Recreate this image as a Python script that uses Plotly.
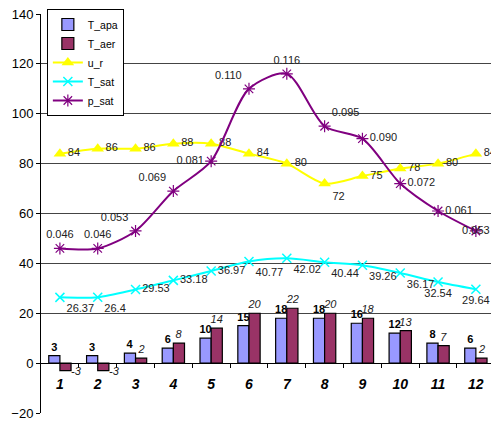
import plotly.graph_objects as go

# Monthly climate data
months = [1, 2, 3, 4, 5, 6, 7, 8, 9, 10, 11, 12]
month_labels = [str(m) for m in months]
t_apa = [3, 3, 4, 6, 10, 15, 18, 18, 16, 12, 8, 6]
t_aer = [-3, -3, 2, 8, 14, 20, 22, 20, 18, 13, 7, 2]
u_r = [84, 86, 86, 88, 88, 84, 80, 72, 75, 78, 80, 84]
t_sat = [26.37, 26.4, 29.53, 33.18, 36.97, 40.77, 42.02, 40.44, 39.26, 36.17, 32.54, 29.64]
p_sat = [0.046, 0.046, 0.053, 0.069, 0.081, 0.110, 0.116, 0.095, 0.090, 0.072, 0.061, 0.053]

# p_sat is drawn on the shared axis scaled by 1000
p_sat_scaled = [v * 1000 for v in p_sat]

FONT = "Liberation Sans, Arial, sans-serif"
LABEL_FONT = dict(family=FONT, size=11, color="#222222")

fig = go.Figure()

fig.add_trace(go.Bar(
    x=months, y=t_apa, name="T_apa",
    marker=dict(color="#9999FF", line=dict(color="#000000", width=1.2)),
    text=[str(v) for v in t_apa], textposition="outside",
    textfont=dict(family=FONT, size=11, color="#000000", weight="bold"),
    constraintext="none", cliponaxis=False,
))
# positive values are labelled above the bar, negative ones beside it (annotations below)
fig.add_trace(go.Bar(
    x=months, y=t_aer, name="T_aer",
    marker=dict(color="#993366", line=dict(color="#000000", width=1.2)),
    text=[str(v) if v >= 0 else "" for v in t_aer], textposition="outside",
    textfont=dict(family=FONT, size=11, color="#222222", style="italic"),
    constraintext="none", cliponaxis=False,
))
for m, v in zip(months, t_aer):
    if v < 0:
        fig.add_annotation(
            x=m, y=v, text=str(v), showarrow=False,
            xshift=17, yshift=0,
            font=dict(family=FONT, size=11, color="#222222", style="italic"),
        )

fig.add_trace(go.Scatter(
    x=months, y=u_r, name="u_r", mode="lines+markers+text",
    line=dict(color="#FFFF00", width=2, shape="spline", smoothing=0.8),
    marker=dict(symbol="triangle-up", size=11, color="#FFFF00"),
    text=[str(v) for v in u_r],
    textposition=["middle right"] * 7 + ["bottom right"] + ["middle right"] * 4,
    textfont=LABEL_FONT, cliponaxis=False,
))
fig.add_trace(go.Scatter(
    x=months, y=t_sat, name="T_sat", mode="lines+markers+text",
    line=dict(color="#00FFFF", width=2, shape="spline", smoothing=0.8),
    marker=dict(symbol="x-thin-open", size=9, color="#00FFFF",
                line=dict(color="#00FFFF", width=1.5)),
    text=[f"{v:g}" for v in t_sat],
    textposition=["bottom right"] * 2 + ["middle right"] * 3
                 + ["bottom right"] * 5 + ["bottom center"] * 2,
    textfont=LABEL_FONT, cliponaxis=False,
))
fig.add_trace(go.Scatter(
    x=months, y=p_sat_scaled, name="p_sat", mode="lines+markers+text",
    line=dict(color="#800080", width=2, shape="spline", smoothing=0.8),
    marker=dict(symbol="asterisk-open", size=10, color="#800080",
                line=dict(color="#800080", width=1.2)),
    text=[f"{v:.3f}" for v in p_sat],
    textposition=["top center", "top center", "top left", "top left", "middle left",
                  "top left", "top center", "top right", "middle right",
                  "middle right", "middle right", "middle center"],
    textfont=LABEL_FONT, cliponaxis=False,
))

y_min, y_max = -20, 140
fig.update_layout(
    width=491, height=421,
    margin=dict(l=41, r=0, t=14, b=8),
    paper_bgcolor="white", plot_bgcolor="white",
    barmode="group", bargap=0.41, bargroupgap=0,
    font=dict(family=FONT, size=13, color="#000000"),
    showlegend=True,
    legend=dict(
        x=0.013, y=1.0125, xanchor="left", yanchor="top",
        bgcolor="white", bordercolor="#000000", borderwidth=1,
        font=dict(family=FONT, size=10.5, color="#000000"),
        tracegroupgap=0, itemwidth=30,
    ),
    xaxis=dict(
        range=[0.5, 12.4],
        tickmode="array", tickvals=months, ticktext=month_labels,
        ticks="outside", ticklen=8, tickcolor="rgba(0,0,0,0)",
        tickfont=dict(family=FONT, size=14, color="#000000",
                      weight="bold", style="italic"),
        minor=dict(tickmode="array", tickvals=[m + 0.5 for m in months[:-1]],
                   ticks="outside", ticklen=4, tickcolor="#000000",
                   showgrid=False),
        showline=True, linecolor="#000000", linewidth=1,
        showgrid=False, zeroline=False,
        anchor="free", position=(0 - y_min) / (y_max - y_min),
    ),
    yaxis=dict(
        range=[y_min, y_max], dtick=20,
        ticks="outside", ticklen=4, tickcolor="#000000",
        showline=True, linecolor="#000000", linewidth=1,
        showgrid=True, gridcolor="#444444", gridwidth=1,
        zeroline=False,
        tickfont=dict(family=FONT, size=13, color="#000000"),
    ),
)

fig.write_html("out.html")
